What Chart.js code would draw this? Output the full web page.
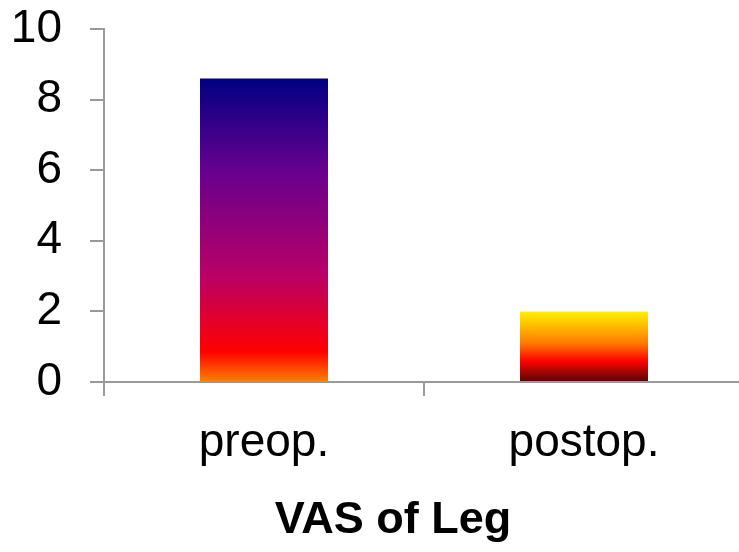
<!DOCTYPE html>
<html>
<head>
<meta charset="utf-8">
<script src="https://cdn.jsdelivr.net/npm/chart.js@4.4.1/dist/chart.umd.min.js"></script>
<style>
  html, body { margin: 0; padding: 0; background: #fff; overflow: hidden; }
  #wrap { width: 744px; height: 552px; }
</style>
</head>
<body>
<div id="wrap"><canvas id="chart"></canvas></div>
<script>
const categories = ['preop.', 'postop.'];
const vasValues = [8.6, 2.0];
const yTicks = [0, 2, 4, 6, 8, 10];
const axisTitle = 'VAS of Leg';

// Excel-like preset gradients, top to bottom
const barStops = [
  [[0, '#000082'], [0.3, '#66008F'], [0.65, '#BA0066'], [0.9, '#FF0000'], [1, '#FF8200']],
  [[0, '#FFF200'], [0.45, '#FF7A00'], [0.7, '#FF0300'], [1, '#4D0808']]
];

function barFill(context) {
  const chart = context.chart;
  if (!chart.chartArea || context.type !== 'data') return '#888';
  const y = chart.scales.y;
  const top = y.getPixelForValue(context.raw);
  const base = y.getPixelForValue(0);
  const g = chart.ctx.createLinearGradient(0, top, 0, base);
  barStops[context.dataIndex].forEach(s => g.addColorStop(s[0], s[1]));
  return g;
}

const axisColor = '#9a9a9a';
const font = 'Liberation Sans, Arial, sans-serif';

// axis title sits a bit left of the plot centre in the original
const bottomTitle = {
  id: 'bottomTitle',
  afterDraw(chart) {
    const ctx = chart.ctx;
    ctx.save();
    ctx.font = 'bold 45px ' + font;
    ctx.fillStyle = '#000';
    ctx.textAlign = 'center';
    ctx.textBaseline = 'middle';
    ctx.fillText(axisTitle, 393, 521);
    ctx.restore();
  }
};

new Chart(document.getElementById('chart'), {
  type: 'bar',
  data: {
    labels: categories,
    datasets: [{
      data: vasValues,
      backgroundColor: barFill,
      borderWidth: 0,
      barPercentage: 0.4,
      categoryPercentage: 1
    }]
  },
  options: {
    responsive: true,
    maintainAspectRatio: false,
    animation: false,
    layout: { padding: { top: 29, right: 0, left: 0, bottom: 0 } },
    plugins: {
      legend: { display: false },
      tooltip: { enabled: false }
    },
    scales: {
      x: {
        afterFit: scale => {
          scale.height = 170;
          scale.paddingLeft = 0;
          scale.paddingRight = 0;
        },
        grid: {
          offset: true,
          drawOnChartArea: false,
          drawTicks: true,
          tickLength: 14,
          color: axisColor,
          lineWidth: 2
        },
        border: { color: axisColor, width: 2 },
        ticks: {
          color: '#000',
          padding: 20,
          font: { family: font, size: 46 }
        }
      },
      y: {
        min: 0,
        max: 10,
        afterBuildTicks: scale => { scale.ticks = yTicks.map(v => ({ value: v })); },
        afterFit: scale => {
          scale.width = 104;
          scale.paddingTop = 0;
          scale.paddingBottom = 0;
        },
        grid: {
          drawOnChartArea: false,
          drawTicks: true,
          tickLength: 14,
          color: axisColor,
          lineWidth: 2
        },
        border: { color: axisColor, width: 2 },
        ticks: {
          color: '#000',
          padding: 28,
          font: { family: font, size: 46 }
        }
      }
    }
  },
  plugins: [bottomTitle]
});
</script>
</body>
</html>
